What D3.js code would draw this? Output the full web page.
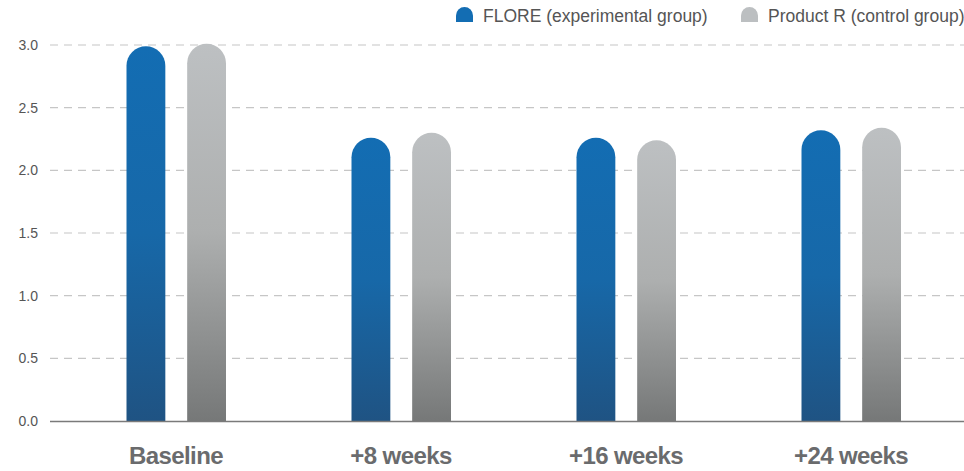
<!DOCTYPE html>
<html>
<head>
<meta charset="utf-8">
<script src="https://cdn.jsdelivr.net/npm/d3@7/dist/d3.min.js"></script>
<style>
  html, body { margin: 0; padding: 0; background: #fff; }
  svg { display: block; }
</style>
</head>
<body>
<svg id="chart" width="964" height="471"></svg>
<script>
const categories = ["Baseline", "+8 weeks", "+16 weeks", "+24 weeks"];
const seriesNames = ["FLORE (experimental group)", "Product R (control group)"];
const floreValues = [2.99, 2.26, 2.26, 2.32];
const productRValues = [3.01, 2.30, 2.24, 2.34];
const yTicks = [0, 0.5, 1.0, 1.5, 2.0, 2.5, 3.0];

const svg = d3.select("#chart");
const W = 964, H = 471;
const font = "'Liberation Sans', Arial, Helvetica, sans-serif";

const y = d3.scaleLinear().domain([0, 3]).range([421, 45]);
const x0 = d3.scaleBand().domain(categories).range([63.5, 963.5]).paddingInner(0).paddingOuter(0);
const x1 = d3.scaleBand().domain(seriesNames).range([63, 162.5]).paddingInner(0.36).paddingOuter(0);

const defs = svg.append("defs");
const gradStops = [
  [["0%", "#136db3"], ["50%", "#1768a8"], ["100%", "#1f5383"]],
  [["0%", "#bdc0c2"], ["50%", "#adafaf"], ["100%", "#767878"]]
];
const gradIds = ["gBlue", "gGray"];
gradStops.forEach((stops, i) => {
  const g = defs.append("linearGradient").attr("id", gradIds[i])
    .attr("x1", 0).attr("y1", 0).attr("x2", 0).attr("y2", 1);
  stops.forEach(s => g.append("stop").attr("offset", s[0]).attr("stop-color", s[1]));
});
const seriesColor = { [seriesNames[0]]: "url(#gBlue)", [seriesNames[1]]: "url(#gGray)" };
const legendColor = ["#136db3", "#bcbfc1"];

// grid lines
const gridTicks = yTicks.filter(t => t > 0);
svg.append("g").selectAll("line").data(gridTicks).join("line")
  .attr("x1", 50).attr("x2", W)
  .attr("y1", d => y(d)).attr("y2", d => y(d))
  .attr("stroke", "#c6c6c6").attr("stroke-width", 1.2)
  .attr("stroke-dasharray", "8,6");

// y axis labels
const yAxis = d3.axisLeft(y).tickValues(yTicks).tickFormat(d3.format(".1f")).tickSize(0).tickPadding(0);
const yg = svg.append("g").attr("transform", "translate(38,0)").call(yAxis);
yg.select(".domain").remove();
yg.selectAll("text").attr("font-family", font).attr("font-size", 14).attr("fill", "#555");

// bars
const data = categories.map((c, i) => ({
  cat: c,
  vals: [
    { s: seriesNames[0], v: floreValues[i] },
    { s: seriesNames[1], v: productRValues[i] }
  ]
}));

function barPath(xl, w, yt, yb) {
  const r = w / 2;
  return `M${xl},${yb} L${xl},${yt + r} A${r},${r} 0 0 1 ${xl + w},${yt + r} L${xl + w},${yb} Z`;
}

const groups = svg.append("g").selectAll("g").data(data).join("g")
  .attr("transform", d => `translate(${x0(d.cat) - 63.5},0)`);
groups.selectAll("path").data(d => d.vals).join("path")
  .attr("d", d => barPath(63.5 + x1(d.s), x1.bandwidth(), y(d.v), y(0)))
  .attr("fill", d => seriesColor[d.s]);

// x axis line
svg.append("line").attr("x1", 50).attr("x2", W).attr("y1", y(0) + 0.5).attr("y2", y(0) + 0.5)
  .attr("stroke", "#7a7a7a").attr("stroke-width", 1.3);

// x labels
const xAxis = d3.axisBottom(x0).tickSize(0).tickPadding(0);
const xg = svg.append("g").attr("transform", "translate(0,464)").call(xAxis);
xg.select(".domain").remove();
xg.selectAll("text").attr("dy", 0).attr("y", 0)
  .attr("font-family", font).attr("font-size", 24).attr("font-weight", "bold")
  .attr("letter-spacing", "-0.6px").attr("fill", "#6a6b6d");

// legend
const legendX = [456, 741];
const lg = svg.append("g").selectAll("g").data(seriesNames).join("g")
  .attr("transform", (d, i) => `translate(${legendX[i]},0)`);
lg.append("path").attr("d", barPath(0, 17, 7, 22)).attr("fill", (d, i) => legendColor[i]);
lg.append("text").attr("x", 27).attr("y", 22)
  .attr("font-family", font).attr("font-size", 17.5).attr("fill", "#555")
  .text(d => d);
</script>
</body>
</html>
